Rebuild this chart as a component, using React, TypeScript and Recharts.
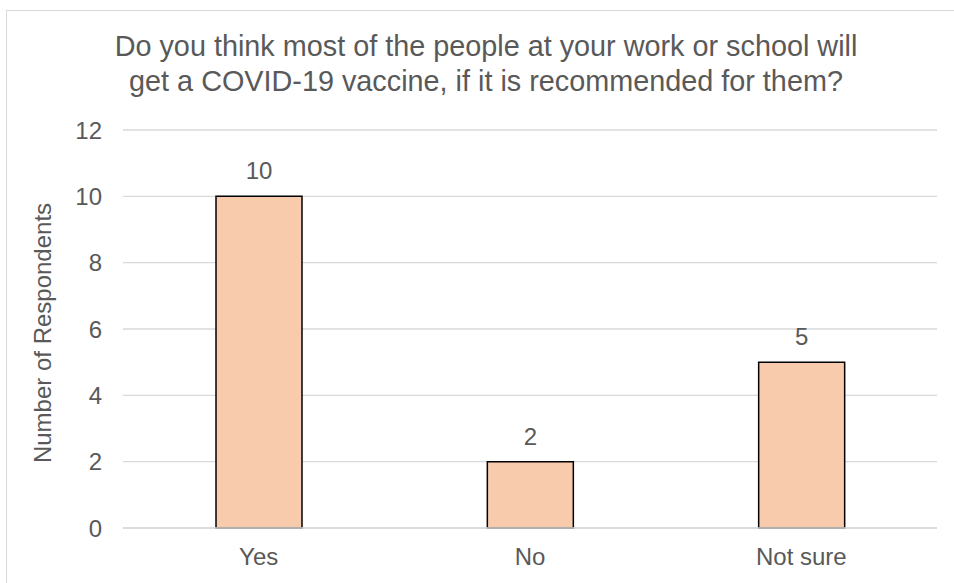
import { Bar, BarChart, CartesianGrid, LabelList, XAxis, YAxis } from 'recharts';

const categories = ['Yes', 'No', 'Not sure'];
const respondents = [10, 2, 5];
const yTicks = [0, 2, 4, 6, 8, 10, 12];

const titleLines = [
    'Do you think most of the people at your work or school will',
    'get a COVID-19 vaccine, if it is recommended for them?',
];

const FONT = '"Liberation Sans", Arial, sans-serif';
const TEXT = '#595959';
const GRID = '#d9d9d9';

const data = categories.map((name, i) => ({ name, value: respondents[i] }));

export default function App() {
    return (
        <div
            style={{
                position: 'absolute',
                left: 0,
                top: 0,
                width: 954,
                height: 583,
                overflow: 'hidden',
                background: '#fff',
                fontFamily: FONT,
            }}
        >
            {/* chart frame, runs off the right and bottom edges */}
            <div
                style={{
                    position: 'absolute',
                    left: 6,
                    top: 10,
                    width: 1000,
                    height: 1000,
                    border: `1px solid ${GRID}`,
                }}
            />
            <div
                style={{
                    position: 'absolute',
                    left: 7,
                    top: 29,
                    width: 958,
                    textAlign: 'center',
                    fontSize: 28.8,
                    lineHeight: '35px',
                    color: TEXT,
                }}
            >
                {titleLines.map((line) => (
                    <div key={line}>{line}</div>
                ))}
            </div>
            <div style={{ position: 'absolute', left: 0, top: 0 }}>
                <BarChart width={954} height={583} data={data} margin={{ top: 130, right: 17, bottom: 25, left: 0 }}>
                    <CartesianGrid vertical={false} stroke={GRID} strokeWidth={1.3} />
                    <XAxis
                        dataKey="name"
                        height={30}
                        axisLine={{ stroke: GRID, strokeWidth: 1.3 }}
                        tickLine={false}
                        tickMargin={14}
                        tick={{ fill: TEXT, fontSize: 24, fontFamily: FONT }}
                    />
                    <YAxis
                        width={123}
                        domain={[0, 12]}
                        ticks={yTicks}
                        axisLine={false}
                        tickLine={false}
                        tickMargin={15}
                        tick={{ fill: TEXT, fontSize: 24, fontFamily: FONT }}
                        label={{
                            value: 'Number of Respondents',
                            angle: -90,
                            position: 'center',
                            dx: -19,
                            dy: 4,
                            fill: TEXT,
                            fontSize: 24,
                            fontFamily: FONT,
                        }}
                    />
                    <Bar dataKey="value" fill="#F8CBAD" stroke="#000" strokeWidth={1.5} barSize={86} isAnimationActive={false}>
                        <LabelList dataKey="value" position="top" offset={17} fill={TEXT} fontSize={24} fontFamily={FONT} />
                    </Bar>
                </BarChart>
            </div>
        </div>
    );
}
